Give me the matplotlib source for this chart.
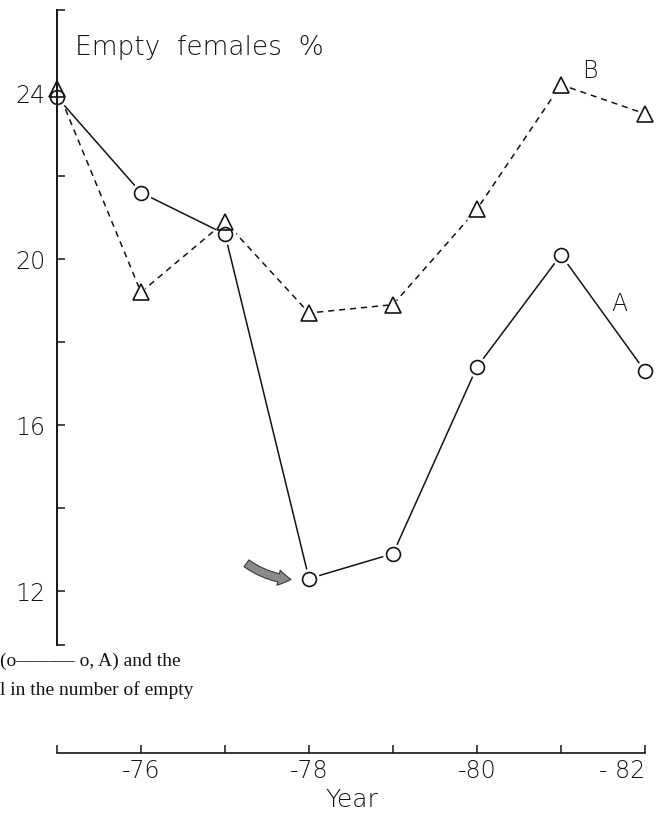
import matplotlib
matplotlib.use("Agg")
import matplotlib.pyplot as plt

# empty females (%) per year, two series
years = [1975, 1976, 1977, 1978, 1979, 1980, 1981, 1982]
series_a = [23.9, 21.6, 20.6, 12.3, 12.9, 17.4, 20.1, 17.3]
series_b = [24.1, 19.2, 20.9, 18.7, 18.9, 21.2, 24.2, 23.5]

ytick_labels = {12: "12", 16: "16", 20: "20", 24: "24"}
xtick_labels = {1976: "-76", 1978: "-78", 1980: "-80", 1982: "- 82"}

ink = "#141414"
plot_font = "DejaVu Sans"

fig = plt.figure(figsize=(6.61, 8.27), dpi=100)
ax = fig.add_axes([57 / 661, 1 - 645 / 827, 588 / 661, 635 / 827])
ax.set_xlim(1975, 1982)
ax.set_ylim(10.7, 26.0)

# lines first, then white pads so the lines stop short of the symbols
ax.plot(years, series_a, "-", color=ink, lw=1.1, zorder=1, clip_on=False)
ax.plot(years, series_b, color=ink, lw=1.1, ls=(0, (4, 3.2)), zorder=1,
        clip_on=False)
ax.plot(years, series_a, "o", ms=15, mfc="white", mec="none", zorder=2,
        clip_on=False)
ax.plot(years, series_b, "^", ms=16, mfc="white", mec="none", zorder=2,
        clip_on=False)
ax.plot(years, series_a, "o", ms=10, mfc="none", mec=ink, mew=1.2,
        zorder=3, clip_on=False)
ax.plot(years, series_b, "^", ms=11, mfc="none", mec=ink, mew=1.2,
        zorder=3, clip_on=False)

# series letters
ax.text(1981.25, 24.35, "B", fontsize=17, family=plot_font, color=ink,
        fontweight="light")
ax.text(1981.6, 18.75, "A", fontsize=17, family=plot_font, color=ink,
        fontweight="light")

# arrow pointing at the low of series A
ax.annotate("", xy=(1978, series_a[3]), xytext=(-45, 11),
            textcoords="offset points",
            arrowprops=dict(arrowstyle="simple,head_length=0.9,head_width=1.1,tail_width=0.6",
                            connectionstyle="arc3,rad=0.2",
                            fc="#8a8a8a", ec="#3a3a3a", lw=0.8,
                            shrinkA=0, shrinkB=13))

# axes styling
for side in ["top", "right"]:
    ax.spines[side].set_visible(False)
ax.spines["left"].set_linewidth(1.4)
ax.spines["left"].set_color(ink)
ax.spines["bottom"].set_linewidth(1.2)
ax.spines["bottom"].set_color(ink)
ax.spines["bottom"].set_position(("outward", 77.8))
ax.spines["left"].set_zorder(2.5)

yticks = [10.7, 12, 14, 16, 18, 20, 22, 24, 26]
ax.set_yticks(yticks)
ax.set_yticklabels([ytick_labels.get(t, "") for t in yticks])
ax.set_xticks(years)
ax.set_xticklabels([xtick_labels.get(y, "") for y in years])
ax.tick_params(axis="y", direction="in", length=6, width=1.1, color=ink,
               pad=8, labelsize=17, labelcolor=ink)
ax.tick_params(axis="x", direction="in", length=6, width=1.1, color=ink,
               pad=4, labelsize=17, labelcolor=ink)
for lab in ax.get_xticklabels() + ax.get_yticklabels():
    lab.set_family(plot_font)
    lab.set_fontweight("light")
ax.get_xticklabels()[-1].set_horizontalalignment("right")

fig.text(75 / 661, 1 - 47 / 827, "Empty  females  %", fontsize=19,
         family=plot_font, fontweight="light", color=ink, va="center")
fig.text(352 / 661, 1 - 800 / 827, "Year", fontsize=18, family=plot_font,
         fontweight="light", color=ink, ha="center", va="center")

# fragments of the printed caption running under the plot
fig.text(0, 1 - 661 / 827, "(o\u2014\u2014\u2014 o, A) and the",
         fontsize=14, family="Liberation Serif", color=ink, va="center")
fig.text(0, 1 - 690 / 827, "l in the number of empty",
         fontsize=14, family="Liberation Serif", color=ink, va="center")

fig.savefig("out.png", dpi=100)
